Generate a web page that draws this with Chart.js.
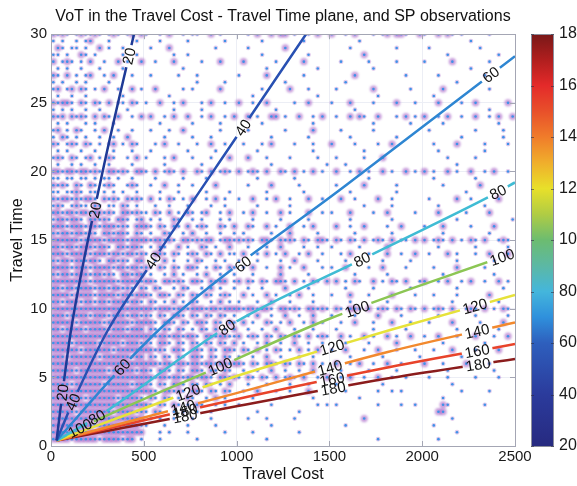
<!DOCTYPE html>
<html>
<head>
<meta charset="utf-8">
<script src="https://cdn.jsdelivr.net/npm/chart.js@4.4.1/dist/chart.umd.min.js"></script>
<style>
  html, body { margin: 0; padding: 0; background: #ffffff; }
  #wrap { position: relative; width: 577px; height: 486px; overflow: hidden; }
  #main { position: absolute; left: 0; top: 0; }
  #cbar { position: absolute; left: 531px; top: 0; }
</style>
</head>
<body>
<div id="wrap">
  <canvas id="main" width="577" height="486"></canvas>
  <canvas id="cbar" width="46" height="486"></canvas>
</div>
<script>
// ---------------------------------------------------------------------------
// Texts and axes
const TITLE   = 'VoT in the Travel Cost - Travel Time plane, and SP observations';
const X_TITLE = 'Travel Cost';
const Y_TITLE = 'Travel Time';
const X_TICKS = [0, 500, 1000, 1500, 2000, 2500];
const Y_TICKS = [0, 5, 10, 15, 20, 25, 30];

// Colour bar (value of time levels)
const CBAR_TICKS = [20, 40, 60, 80, 100, 120, 140, 160, 180];

// VoT iso-lines in the (cost, time) plane: traced points [cost, time]
const VOT_LEVELS = [20, 40, 60, 80, 100, 120, 140, 160, 180];
const vot20  = [[30, 0.4], [62, 3.9], [108, 8.45], [280, 20.1], [447, 30]];
const vot40  = [[30, 0.4], [118, 3.2], [307, 8.45], [550, 13.5], [1034, 23.2], [1374, 30]];
const vot60  = [[30, 0.4], [383, 5.75], [641, 9.2], [1600, 19.1], [2500, 28.4]];
const vot80  = [[30, 0.4], [248, 2.1], [964, 8.8], [1676, 13.6], [1827, 14.6], [2408, 18.5], [2500, 19.2]];
const vot100 = [[30, 0.4], [156, 1.3], [911, 5.8], [1487, 9.2], [2500, 14.1]];
const vot120 = [[30, 0.4], [738, 3.9], [1000, 5.1], [1514, 7.2], [1827, 8.45], [2500, 11.0]];
const vot140 = [[30, 0.4], [1000, 3.85], [1814, 6.85], [2500, 9.0]];
const vot160 = [[30, 0.4], [964, 3.3], [1827, 5.75], [2500, 7.43]];
const vot180 = [[30, 0.4], [964, 2.8], [1827, 4.95], [2500, 6.34]];

// cost positions of the inline level labels on each iso-line
const lab20  = [420, 237, 62];
const lab40  = [1034, 550, 118];
const lab60  = [2370, 1034, 383];
const lab80  = [2408, 1676, 948, 248];
const lab100 = [2430, 1649, 911, 156];
const lab120 = [2284, 1514, 738];
const lab140 = [2296, 1503, 711];
const lab160 = [2296, 1514, 722];
const lab180 = [2301, 1520, 722];

const VOT_COLORS = ['#1e3a96', '#2850b2', '#2e86d2', '#40bcd4', '#8cc654',
                    '#e6e23a', '#f2892e', '#e8432a', '#8b1c1c'];

// Colour map used by the colour bar, [level, colour]
const CMAP = [[20, '#272a80'], [40, '#2b3b9c'], [60, '#2e5fbd'], [70, '#2f90dc'],
              [80, '#44b6dc'], [90, '#5cb8a4'], [100, '#6cbc70'], [110, '#b0cc44'],
              [120, '#e8e02a'], [130, '#f0ae2c'], [140, '#f07c2a'], [150, '#e8502a'],
              [160, '#e42a2a'], [170, '#b01e1e'], [180, '#781818']];

// SP observations. One row per travel time; each character is a 25-unit
// cost cell: '.' no observation, 'o' single observation, 'x' repeated ones.
// Groups of 20 cells: cost 0-500 | 500-1000 | 1000-1500 | 1500-2000 | 2000-2500
const COST_BIN = 25;
const OBS_ROWS = [
  [30.0, "xoxo.oxooxo.oxo.ox.x|o..o.x..o.oo..x.o..|..o.x..x.xx.o..o.x..|x..o.x...o.ox.xxo..x|o..x.xo.o.....o....."],
  [29.5, "o.o..o.ox...o.....o.|...o.....o.......o..|.....o........o.....|......o.............|..........o........."],
  [29.0, ".xo.oo.o..x.o..o....|.o...x.........o....|..o.......x.........|....o.........o.....|.o..........o......."],
  [28.5, "oo.o..xo.o.....o..o.|......o..o..........|.....o.........o....|.......x............|.....o..........o..."],
  [28.0, "x.oxo.o.x..o..x.o..x|..o...x.....o...x...|.x......o.....x.....|..o.....o.....o.....|o.....x.......o....."],
  [27.5, ".o.o..o...o....o....|........o...........|......o..........o..|.........o..........|..........o........."],
  [27.0, "xo.x.o.ox..o.x...o..|.o.....o...o........|o.....x.......o.....|.....x..........o...|...o.........o......"],
  [26.5, "o.o..o.o....o.......|...........o.....o..|..........o.........|...o................|.......o............"],
  [26.0, "ox.ox.xo.o.x..o..x.o|..x.....o.o.....x...|.....o.....x...o....|.o.......x.......o..|....x.........o....."],
  [25.5, ".o..o..o.......o....|.....o..............|...o.............o..|..........o.........|..o................."],
  [25.0, "xoxxo.xo.xo.x.oo.xo.|o..x..o.x...o.x..o..|x..o..x.....o..x....|o...x....o....x...o.|...x....o..x......x."],
  [24.5, "o.o.o..o..o.....o...|......o.....o.......|........o...........|.....o..............|..............o....."],
  [24.0, "xox.xoxo.x.xo.x..o.x|.x..o.x..x..o.x..o.x|..x.o..xx.o..x..o.x.|.o..x.xo..x...o.x.o.|x..o.x..o..x..o.x..x"],
  [23.5, ".o.o...o.o...o......|...o......o.....o...|.....o..........o...|.........o.......o..|....o...........o..."],
  [23.0, "ox.o.xo..o.x..o..o..|.o...o..x.......o...|..o.......o.....x...|..o......o..........|.o.........o.....o.."],
  [22.5, "o.xo.o.o..o..o..x...|....o.....o...o.....|.......o.......o....|....o.........o.....|........o........o.."],
  [22.0, "xo.oxo.xo.o.ox.o.xo.|..o.x..o...o..x..o..|.o...o.x....o...o...|x....o....o..x......|..o....x.....o....o."],
  [21.5, ".o.o..o..o...o...o..|.o.......o.....o....|....o...........o...|.......o............|...o.........o......"],
  [21.0, "oxo.xo.ox.o.xo..o.x.|o...o.x...o...o...x.|..x...o....o.....o..|.o.....o...x........|.....o.....o........"],
  [20.5, ".o..o.o..o..o....o..|....o.......o.......|.......o...........o|...o................|.......o............"],
  [20.0, "xxoxxoxxoxo.xxoxo.xx|o.x.oxo.x..xo.x.oxo.|x.oxo.x..xo.x.o.x.o.|.x..o.x.o..x.o..x.o.|x.o..x.o..x..o.x..o."],
  [19.5, "oo.oo.oo.o.oo.o..o..|..o.....o....o......|....o.......o.......|........o...........|..o........o........"],
  [19.0, "xoxo.xo.xo.oxo..oxo.|.o..x..o..o....x....|..o....x.....o......|.o.....x......o.....|....o.......x......."],
  [18.5, "oo.ooxo.oo.o.o.o..o.|...o...o.....o....o.|......o.......o.....|....o.........o.....|.........o.........."],
  [18.0, "xoxxoxoxxo.xoxo.xoxo|.x.o.xo.o.x..o.x.o..|o..x..o.x..o...x..o.|..x..o....x..o......|.o.....x..o.....x..."],
  [17.5, "oxo.oxoo.xo.oo.xo.o.|..o..o...o....o..o..|....o......o........|.......o.....o......|...o.........o......"],
  [17.0, "xxoxxoxxoxxoxo.xxoxo|o.xo.x.o.xo.ox..o.x.|.o.x..o..x.o...x..o.|o...x....o..x.....o.|...x.....o....x....."],
  [16.5, "oxxoxxo.xxoxo.xxo.ox|.o.o..xo..o.o...o.o.|...o.....o.....o....|....o........o......|.......o...........o"],
  [16.0, "xxxoxxxoxxoxxxoxo.xx|xo.xo.xo.x.oxo..xo.x|..xo..x.o..x..o.x...|.x..o..x....o..x....|o...x.....o....x...."],
  [15.5, "xoxxoxxoxo.xxoxxo.xo|.o..xo..o.x..o..o..o|.o.....o...x.....o..|.....o.......o......|....o.........o....."],
  [15.0, "xxxxxxoxxxxoxxxxoxxx|xoxxoxo.xxoxoxx.oxxo|xoxo.xxo.xoxo.xo.xxo|.xo.xo.x.oxo.x.oo.x.|x.oxo.x.o.xo.x..oxo."],
  [14.5, "xxoxxoxxxoxxo.xxoxxo|.o.xo..x.o..xo.o..x.|..o...o..x....o..o..|o.....o.....x.......|...o.......o......o."],
  [14.0, "xxxoxxxxoxxxoxxoxxox|o.xxo.xo.oxo.xo.x.oo|.x..o.x.o.x..o.x..o.|..o.x...o...x..o..x.|.o...x.o...o..x...x."],
  [13.5, "xoxxoxxoxxo.xxoxo.xx|..o.x.o..o.xo..o.o..|o...o....o..x....o..|...o.......o.....o..|.......o.......o...."],
  [13.0, "xxxxoxxxoxxxxoxxoxxo|xo.xo.xo.xxo.o.xo.xo|.o.x..o..x.o..x...o.|o..x....o..x....o...|..o....x.....o......"],
  [12.5, "xoxxoxxxoxxoxo.xxoxx|.o..o.x.o..o.x..o..o|...o.....x.....o....|.....o......o.......|....o..........o...."],
  [12.0, "xxxxxxxxoxxxxxoxxxxo|xxo.xxoxo.xxo.xoxx.o|x.xo.xo.xxo.x.o.xo.x|.x.o.xo..x.o.xo.x..o|x..o.x..o.x..o..x.o."],
  [11.5, "xxoxxoxxxoxxoxxoxo.x|o.xo..o.xo..o.x.o..o|..o..o....x....o....|...o.....o.......o..|.......o.........o.."],
  [11.0, "xxxxoxxxxoxxxxoxxoxx|xo.xxo.xo.xo.xo.oxo.|.x.o..x.o..o.x..o...|o...x...o....x....o.|..o....o......x....."],
  [10.5, "xxoxxxoxxoxxoxxxoxxo|.xo.o.x.o.xo..o.x.o.|o...o..x...o....o...|....o.......o.......|......o.........o..."],
  [10.0, "xxxxxxxxxxxxxxxxxxxx|xxoxxxoxxoxxxoxxoxxx|xoxxoxxo.xxoxo.xxoxo|.xo.xxo.x.oxo.xo.xo.|x.oxo.x..oxo.x.o.xo."],
  [9.5,  "xxxoxxxxoxxxoxxxoxxo|xo.xo.xxo.xo.xo.xo.o|..o.x..o..x..o..x...|o....o....x....o....|...o.......o......o."],
  [9.0,  "xxxxxoxxxxxoxxxxxoxx|xxo.xxo.xo.xxo.xo.xo|.x.o..xo.o.x..o.x.o.|..o..x...o...x...o..|.o....x.....o....x.."],
  [8.5,  "xxoxxxxoxxxxoxxxoxxx|.xo.xo.xo.o.xo.x.o.x|..o..o..x...o...o...|.o.......o......o...|.......o........o..."],
  [8.0,  "xxxxxxxxxxxxxxxxxxxx|xxoxxoxxoxxo.xxoxxoo|x.oxo.xo.xo.xo.x.oxo|..x.o..x.o..x.o..x..|o..x...o...x...o..x."],
  [7.5,  "xxxxoxxxxxoxxxxoxxxo|xo.xxo.xo.xo.xo.xo.x|.o..o.x..o..x..o..o.|...o....o.....x.....|....o........o......"],
  [7.0,  "xxxxxxoxxxxxxoxxxxxx|xxoxo.xxo.xxo.xo.xxo|.xo.x.o.xo.o.x.o.x..|o..x...o..x...o...o.|..o...x....o....x..."],
  [6.5,  "xxxoxxxxxxoxxxxxxoxx|.xo.xo.xo.xxo.xo.xo.|o..o..x..o...o..o...|....o......o.......o|........o..........."],
  [6.0,  "xxxxxxxxxxxxxxxxxxxx|xxxoxxoxxoxxoxxoxxox|xo.xo.xxo.xo.xo.x.o.|.x..o.x..o..x..o....|x...o....x....o....."],
  [5.5,  "xxxxxoxxxxxxoxxxxxox|xo.xxo.xo.xxo.xo.xo.|.o..o..x..o..o..x...|..o.....o.....o.....|.....o.........o...."],
  [5.0,  "xxxxxxxxxxxxxxxxxxxx|xxoxxoxxoxxoxxo.xxox|o.xo.xo.x.oxo.x..o.x|..o.x..o..x..o..o...|.o...o.....o....o..."],
  [4.5,  "xxxxoxxxxxxoxxxxxoxx|xo.xo.xxo.xo.xo.o.x.|..o...o....o...o....|.o.........o........|......o............."],
  [4.0,  "xxxxxxxxxxxxxxxxxxxx|xxo.xxoxo.xxo.xo.xo.|.o..x...o..o...x....|...o......o..o.o....|........o.....o....."],
  [3.5,  "xxxxxxxoxxxxxxoxxxxo|.xo.xo.o.xo..o.x.o..|...o.....o......o...|......o.............|....o..............."],
  [3.0,  "xxxxxxxxxxxxxxxxxxxx|xo.xo.xo.o.xo..o.o..|o......o.........o.o|.o........o....o..o.|....xo.......o......"],
  [2.5,  "xxxxxoxxxxxxxoxxxxox|o.xo..o.o..o..o.....|....o........o......|....................|...xx..............."],
  [2.0,  "xxxxxxxxxxxxxxxxxxxx|.o.o..o...o...o.....|..o...o.....o.......|.......x............|......o............."],
  [1.5,  "xxxxxxxxxoxxxxxoxxxo|o...o....o.....o....|.......o............|...o................|..o................."],
  [1.0,  "xxxxxxxxxxxxxxxxxxxx|...o.o...o.......o..|...o.........o......|....................|.......o............"],
  [0.5,  "xxxxoxxxxxoxxxxoxx.o|...o.......o........|......o.............|..........o.........|...o................"]
];

// ---------------------------------------------------------------------------
const FONT = '"Liberation Sans", Arial, Helvetica, sans-serif';
Chart.defaults.font.family = FONT;
Chart.defaults.color = '#1a1a1a';

// decode observation rows into point lists
const obsHalo = [], obsFaint = [], obsCore = [];
OBS_ROWS.forEach(([time, row]) => {
  row.split('|').forEach((group, g) => {
    for (let j = 0; j < group.length; j++) {
      const c = group[j];
      if (c === '.') continue;
      const p = { x: COST_BIN * (g * 20 + j + 0.5), y: time };
      obsCore.push(p);
      (c === 'x' ? obsHalo : obsFaint).push(p);
    }
  });
});

const VOT_POINTS = [vot20, vot40, vot60, vot80, vot100, vot120, vot140, vot160, vot180];
const VOT_LABELS = [lab20, lab40, lab60, lab80, lab100, lab120, lab140, lab160, lab180];

const lineSets = VOT_LEVELS.map((lvl, k) => ({
  type: 'scatter',
  showLine: true,
  data: VOT_POINTS[k].map(([x, y]) => ({ x, y })),
  borderColor: VOT_COLORS[k],
  backgroundColor: VOT_COLORS[k],
  borderWidth: 2.5,
  pointRadius: 0,
  cubicInterpolationMode: 'monotone',
  order: 0,
  level: lvl,
  labelAt: VOT_LABELS[k]
}));

const LABEL_FONT = '15px ' + FONT;

// where each inline label sits on its line (pixel position and direction)
function labelPlacements(chart, ds) {
  const xs = chart.scales.x, ys = chart.scales.y;
  const pts = ds.data.map(p => ({ x: xs.getPixelForValue(p.x), y: ys.getPixelForValue(p.y) }));
  return ds.labelAt.map(c => {
    const px = xs.getPixelForValue(c);
    let i = 0;
    while (i < pts.length - 2 && pts[i + 1].x < px) i++;
    const a = pts[i], b = pts[i + 1];
    const t = (px - a.x) / (b.x - a.x);
    return { x: px, y: a.y + t * (b.y - a.y), angle: Math.atan2(b.y - a.y, b.x - a.x) };
  });
}

// breaks the iso-lines under their labels, softens the observation halos,
// and writes the level values along the lines
const contourLabels = {
  id: 'contourLabels',
  beforeDatasetDraw(chart, args) {
    const ds = chart.data.datasets[args.index];
    const ctx = chart.ctx;
    if (ds.soft) {
      ctx.save();
      ctx.filter = 'blur(' + ds.soft + 'px)';
      return;
    }
    if (!ds.labelAt) return;
    const a = chart.chartArea;
    ctx.save();
    ctx.font = LABEL_FONT;
    const w = ctx.measureText(String(ds.level)).width / 2 + 3;
    const h = 6;
    ctx.beginPath();
    ctx.rect(a.left, a.top, a.right - a.left, a.bottom - a.top);
    labelPlacements(chart, ds).forEach(p => {
      const c = Math.cos(p.angle), s = Math.sin(p.angle);
      const corner = (u, v) => [p.x + u * c - v * s, p.y + u * s + v * c];
      const q = [corner(-w, -h), corner(w, -h), corner(w, h), corner(-w, h)];
      ctx.moveTo(q[0][0], q[0][1]);
      for (let i = 1; i < 4; i++) ctx.lineTo(q[i][0], q[i][1]);
      ctx.closePath();
    });
    ctx.clip('evenodd');
  },
  afterDatasetDraw(chart, args) {
    const ds = chart.data.datasets[args.index];
    if (ds.soft || ds.labelAt) chart.ctx.restore();
  },
  afterDatasetsDraw(chart) {
    const ctx = chart.ctx;
    ctx.save();
    ctx.font = LABEL_FONT;
    ctx.fillStyle = '#111111';
    ctx.textAlign = 'center';
    ctx.textBaseline = 'middle';
    chart.data.datasets.forEach(ds => {
      if (!ds.labelAt) return;
      labelPlacements(chart, ds).forEach(p => {
        ctx.save();
        ctx.translate(p.x, p.y);
        ctx.rotate(p.angle);
        ctx.fillText(String(ds.level), 0, 1);
        ctx.restore();
      });
    });
    ctx.restore();
  }
};

// box around the axes with inward tick marks
const axesBox = {
  id: 'axesBox',
  afterDraw(chart) {
    const ctx = chart.ctx, a = chart.chartArea;
    const xs = chart.scales.x, ys = chart.scales.y;
    ctx.save();
    ctx.strokeStyle = '#a4a6b4';
    ctx.lineWidth = 1;
    ctx.strokeRect(Math.round(a.left) + 0.5, Math.round(a.top) + 0.5,
                   Math.round(a.right - a.left), Math.round(a.bottom - a.top));
    ctx.beginPath();
    xs.ticks.forEach(t => {
      const x = Math.round(xs.getPixelForValue(t.value)) + 0.5;
      ctx.moveTo(x, a.bottom); ctx.lineTo(x, a.bottom - 5);
      ctx.moveTo(x, a.top); ctx.lineTo(x, a.top + 5);
    });
    ys.ticks.forEach(t => {
      const y = Math.round(ys.getPixelForValue(t.value)) + 0.5;
      ctx.moveTo(a.left, y); ctx.lineTo(a.left + 5, y);
      ctx.moveTo(a.right, y); ctx.lineTo(a.right - 5, y);
    });
    ctx.stroke();
    ctx.restore();
  }
};

new Chart(document.getElementById('main'), {
  type: 'scatter',
  data: {
    datasets: [
      ...lineSets,
      { data: obsCore, pointRadius: 1.3, pointHoverRadius: 1.3, backgroundColor: '#3f92e8',
        borderWidth: 0, order: 1 },
      { data: obsFaint, pointRadius: 2.4, pointHoverRadius: 2.4, backgroundColor: 'rgba(165,95,200,0.32)',
        borderWidth: 0, order: 2, soft: 0.6 },
      { data: obsHalo, pointRadius: 3.6, pointHoverRadius: 3.6, backgroundColor: 'rgba(155,78,192,0.55)',
        borderWidth: 0, order: 3, soft: 0.9 }
    ]
  },
  options: {
    responsive: false,
    animation: false,
    devicePixelRatio: 1,
    layout: { padding: { left: 0, right: 62, top: 0, bottom: 0 } },
    plugins: {
      legend: { display: false },
      tooltip: { enabled: false },
      title: {
        display: true, text: TITLE, fullSize: false, color: '#111111',
        font: { size: 16, weight: 'normal' }, padding: { top: 7, bottom: 8 }
      }
    },
    scales: {
      x: {
        type: 'linear', min: X_TICKS[0], max: X_TICKS[X_TICKS.length - 1],
        afterBuildTicks: s => { s.ticks = X_TICKS.map(v => ({ value: v })); },
        afterFit: s => { s.height = 40; },
        ticks: { font: { size: 15 }, color: '#1a1a1a', padding: 2, maxRotation: 0, autoSkip: false,
                 callback: v => String(v) },
        grid: { color: '#eceef5', drawTicks: false },
        border: { display: false },
        title: { display: true, text: X_TITLE, color: '#111111', font: { size: 16 },
                 padding: { top: 0, bottom: 2 } }
      },
      y: {
        type: 'linear', min: Y_TICKS[0], max: Y_TICKS[Y_TICKS.length - 1],
        afterBuildTicks: s => { s.ticks = Y_TICKS.map(v => ({ value: v })); },
        afterFit: s => { s.width = 51; },
        ticks: { font: { size: 15 }, color: '#1a1a1a', padding: 4, callback: v => String(v) },
        grid: { color: '#eceef5', drawTicks: false },
        border: { display: false },
        title: { display: true, text: Y_TITLE, color: '#111111', font: { size: 16 },
                 padding: { top: 8, bottom: 0 } }
      }
    }
  },
  plugins: [contourLabels, axesBox]
});

// ---------------------------------------------------------------------------
// colour bar
function cmapGradient(chart) {
  const a = chart.chartArea;
  if (!a) return CMAP[0][1];
  const lo = CMAP[0][0], hi = CMAP[CMAP.length - 1][0];
  const g = chart.ctx.createLinearGradient(0, a.bottom, 0, a.top);
  CMAP.forEach(([v, col]) => g.addColorStop((v - lo) / (hi - lo), col));
  return g;
}

const cbarBox = {
  id: 'cbarBox',
  afterDraw(chart) {
    const ctx = chart.ctx, a = chart.chartArea, ys = chart.scales.y;
    ctx.save();
    ctx.strokeStyle = '#8c8e9c';
    ctx.lineWidth = 1;
    ctx.strokeRect(a.left + 0.5, Math.round(a.top) + 0.5, a.right - a.left - 1, Math.round(a.bottom - a.top));
    ctx.strokeStyle = 'rgba(40,40,60,0.55)';
    ctx.beginPath();
    ys.ticks.forEach(t => {
      const y = Math.round(ys.getPixelForValue(t.value)) + 0.5;
      ctx.moveTo(a.left, y); ctx.lineTo(a.left + 3, y);
      ctx.moveTo(a.right, y); ctx.lineTo(a.right - 3, y);
    });
    ctx.stroke();
    ctx.restore();
  }
};

new Chart(document.getElementById('cbar'), {
  type: 'bar',
  data: {
    labels: ['VoT'],
    datasets: [{
      data: [[CBAR_TICKS[0], CBAR_TICKS[CBAR_TICKS.length - 1]]],
      backgroundColor: ctx => cmapGradient(ctx.chart),
      borderWidth: 0,
      barPercentage: 1,
      categoryPercentage: 1
    }]
  },
  options: {
    responsive: false,
    animation: false,
    devicePixelRatio: 1,
    layout: { padding: { top: 34, bottom: 40, left: 0, right: 0 } },
    plugins: { legend: { display: false }, tooltip: { enabled: false } },
    scales: {
      x: { display: false },
      y: {
        position: 'right',
        min: CBAR_TICKS[0], max: CBAR_TICKS[CBAR_TICKS.length - 1],
        afterBuildTicks: s => { s.ticks = CBAR_TICKS.map(v => ({ value: v })); },
        afterFit: s => { s.width = 23; },
        ticks: { font: { size: 16 }, color: '#1a1a1a', padding: 5, callback: v => String(v) },
        grid: { display: false, drawTicks: false },
        border: { display: false }
      }
    }
  },
  plugins: [cbarBox]
});
</script>
</body>
</html>
